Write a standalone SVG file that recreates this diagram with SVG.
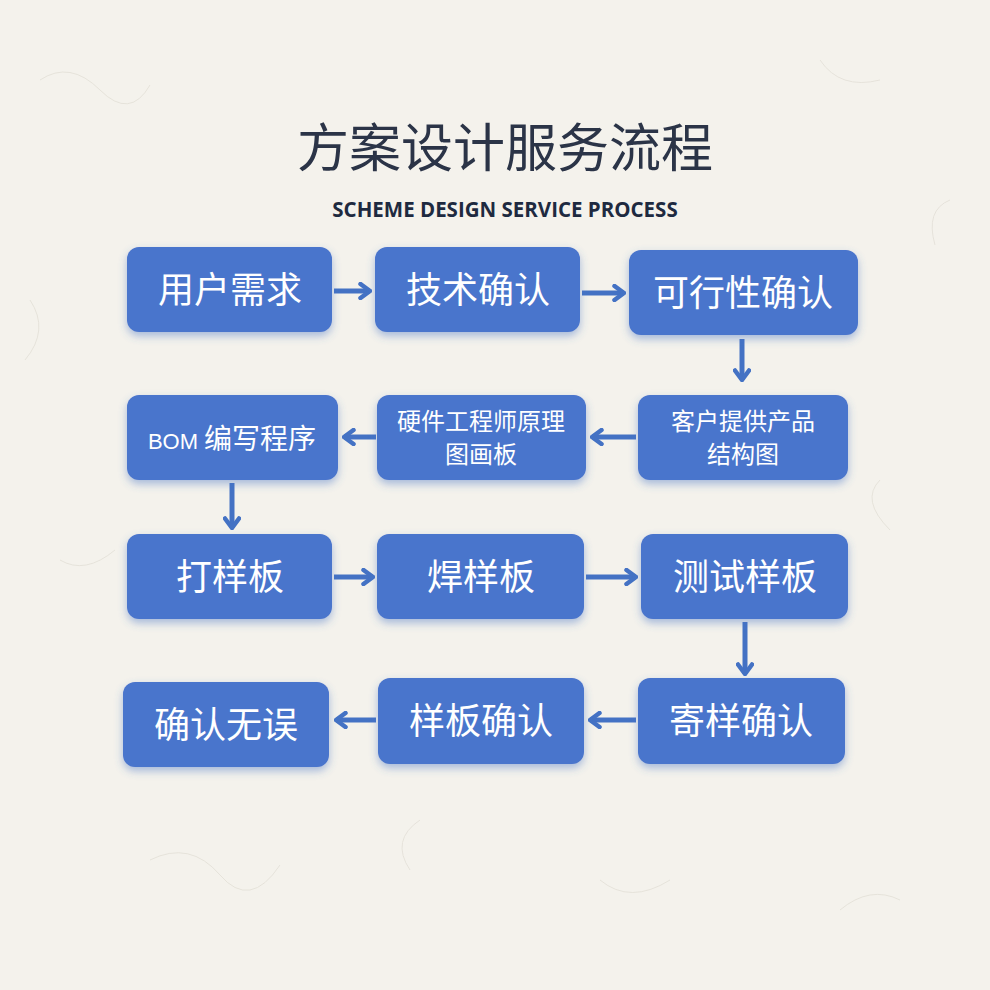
<svg xmlns="http://www.w3.org/2000/svg" width="990" height="990" viewBox="0 0 990 990">
<defs>
<filter id="sh" x="-20%" y="-20%" width="140%" height="150%">
<feGaussianBlur in="SourceAlpha" stdDeviation="4"/>
<feOffset dy="4" result="b"/>
<feFlood flood-color="#4472c4" flood-opacity="0.45"/>
<feComposite in2="b" operator="in"/>
<feMerge><feMergeNode/><feMergeNode in="SourceGraphic"/></feMerge>
</filter>
<marker id="ah" viewBox="0 0 14 18" refX="12" refY="9" markerWidth="14" markerHeight="18" markerUnits="userSpaceOnUse" orient="auto">
<path d="M2.5,2 L12,9 L2.5,16" fill="none" stroke="#4472c4" stroke-width="4.5" stroke-linecap="round" stroke-linejoin="round"/>
</marker>
</defs>
<style>
.box{fill:#4a74cc;filter:url(#sh)}
.t{font-family:"Noto Sans CJK SC","Liberation Serif",serif;fill:#fff;text-anchor:middle}
.big{font-size:36px}
.sm{font-size:24px}
.c{stroke:#4472c4;stroke-width:5;fill:none;marker-end:url(#ah)}
</style>
<rect width="990" height="990" fill="#f4f2ec"/>
<g stroke="#dcd8cf" stroke-width="1" fill="none" opacity="0.6">
<path d="M40,80 q30,-20 60,10 t50,-5"/><path d="M820,60 q20,30 60,20"/><path d="M60,560 q25,15 55,-10"/><path d="M880,480 q-20,20 10,50"/><path d="M150,860 q40,-20 70,15 t60,-10"/><path d="M600,880 q30,25 70,0"/><path d="M420,820 q-30,20 -10,50"/><path d="M900,900 q-30,-15 -60,10"/><path d="M30,300 q20,30 -5,60"/><path d="M950,200 q-25,10 -15,45"/>
</g>
<g id="title">
<text x="505" y="167" font-family="Noto Sans CJK SC, sans-serif" font-size="52" fill="#2b3447" text-anchor="middle">方案设计服务流程</text>
<text x="505" y="217" font-family="Open Sans, Liberation Sans, sans-serif" font-weight="bold" font-size="20.5" fill="#1e2a40" text-anchor="middle">SCHEME DESIGN SERVICE PROCESS</text>
</g>
<g id="connectors">
<line class="c" x1="334" y1="291" x2="370" y2="291"/>
<line class="c" x1="582" y1="293" x2="624" y2="293"/>
<line class="c" x1="742" y1="339" x2="742" y2="380"/>
<line class="c" x1="636" y1="437" x2="592" y2="437"/>
<line class="c" x1="376" y1="437" x2="344" y2="437"/>
<line class="c" x1="232" y1="483" x2="232" y2="528"/>
<line class="c" x1="334" y1="577" x2="373" y2="577"/>
<line class="c" x1="586" y1="577" x2="636" y2="577"/>
<line class="c" x1="745" y1="622" x2="745" y2="674"/>
<line class="c" x1="636" y1="720" x2="590" y2="720"/>
<line class="c" x1="376" y1="720" x2="336" y2="720"/>
</g>
<g id="n1"><rect class="box" x="127" y="247" width="205" height="85" rx="12"/><text class="t big" x="230" y="303">用户需求</text></g>
<g id="n2"><rect class="box" x="375" y="247" width="205" height="85" rx="12"/><text class="t big" x="478" y="303">技术确认</text></g>
<g id="n3"><rect class="box" x="629" y="250" width="229" height="85" rx="12"/><text class="t big" x="743" y="306">可行性确认</text></g>
<g id="n4"><rect class="box" x="127" y="395" width="211" height="85" rx="12"/><text class="t" x="232" y="449"><tspan font-family="Liberation Sans, sans-serif" font-size="22">BOM </tspan><tspan font-size="28">编写程序</tspan></text></g>
<g id="n5"><rect class="box" x="377" y="395" width="209" height="85" rx="12"/><text class="t sm" x="481" y="430">硬件工程师原理</text><text class="t sm" x="481" y="463">图画板</text></g>
<g id="n6"><rect class="box" x="638" y="395" width="210" height="85" rx="12"/><text class="t sm" x="743" y="430">客户提供产品</text><text class="t sm" x="743" y="463">结构图</text></g>
<g id="n7"><rect class="box" x="127" y="534" width="205" height="85" rx="12"/><text class="t big" x="230" y="590">打样板</text></g>
<g id="n8"><rect class="box" x="377" y="534" width="207" height="85" rx="12"/><text class="t big" x="481" y="590">焊样板</text></g>
<g id="n9"><rect class="box" x="641" y="534" width="207" height="85" rx="12"/><text class="t big" x="745" y="590">测试样板</text></g>
<g id="n10"><rect class="box" x="123" y="682" width="206" height="85" rx="12"/><text class="t big" x="226" y="738">确认无误</text></g>
<g id="n11"><rect class="box" x="378" y="678" width="206" height="86" rx="12"/><text class="t big" x="481" y="734">样板确认</text></g>
<g id="n12"><rect class="box" x="638" y="678" width="207" height="86" rx="12"/><text class="t big" x="741" y="734">寄样确认</text></g>
</svg>
